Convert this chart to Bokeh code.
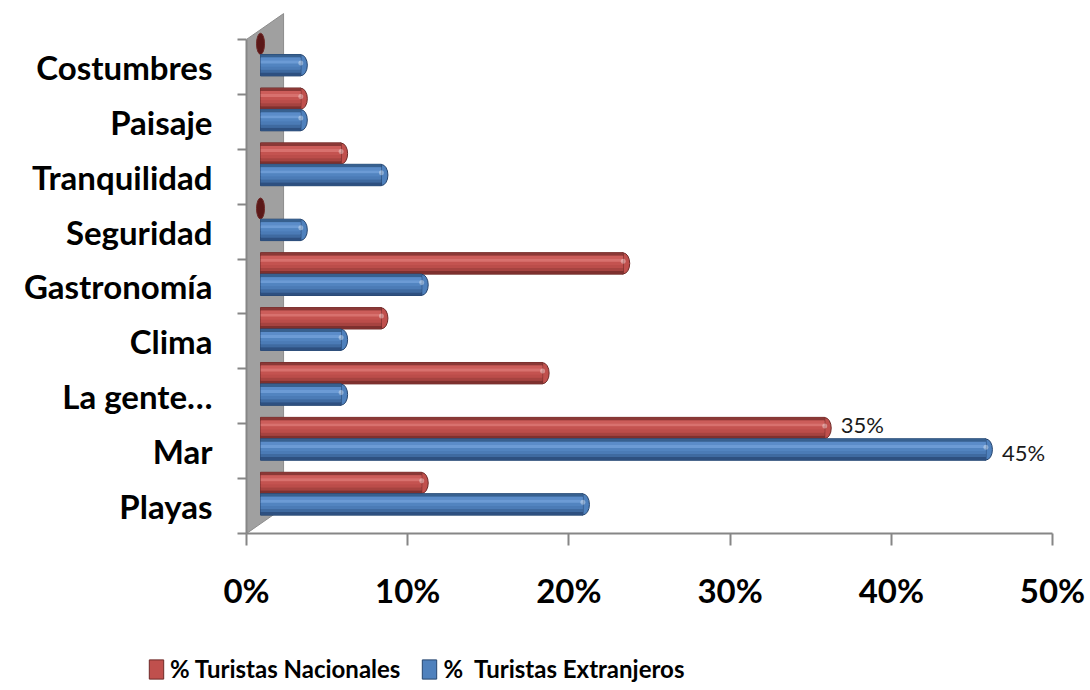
from bokeh.plotting import figure
from bokeh.models import Range1d, FixedTicker, Legend, LegendItem, ColumnDataSource
from bokeh.embed import file_html
from bokeh.resources import INLINE
from bokeh.core.properties import value

# ---------------- data ----------------
categories = ["Playas", "Mar", "La gente…", "Clima", "Gastronomía",
              "Seguridad", "Tranquilidad", "Paisaje", "Costumbres"]
nacionales = [10, 35, 17.5, 7.5, 22.5, 0, 5, 2.5, 0]
extranjeros = [20, 45, 5, 5, 10, 2.5, 7.5, 2.5, 2.5]
nac_labels = ["", "35%", "", "", "", "", "", "", ""]
ext_labels = ["", "45%", "", "", "", "", "", "", ""]
series_names = ["% Turistas Nacionales", "%  Turistas Extranjeros"]
x_ticks = [0, 10, 20, 30, 40, 50]
x_tick_labels = ["0%", "10%", "20%", "30%", "40%", "50%"]

# ---------------- style / geometry ----------------
FONT = "Lato"
AXIS_GRAY = "#868686"
DX = 0.87          # 3-D depth offset of bars (x units)
WALL_DX = 2.3
WALL_DY = 0.47
BAR_H = 0.39
OFF_NAC = 0.92     # position inside band
OFF_EXT = 0.53
N = len(categories)
RED, RED_DARK, RED_ZERO = "#c0504d", "#6e2a28", "#5a1818"
BLUE, BLUE_DARK, BLUE_ZERO = "#4f81bd", "#26456e", "#1c3556"

red_cols = ["#8a3836", "#cc5d5a", "#d8716e", "#c45350", "#bb4d4a", "#a64340", "#7e302e"]
blue_cols = ["#37608f", "#5b8cc9", "#6c9bd5", "#5284c0", "#4b7bb6", "#3f6aa0", "#2e5080"]

p = figure(width=1090, height=650, output_backend="svg", toolbar_location=None,
           x_range=Range1d(0, 50), y_range=Range1d(0, 533 / 54.9),
           min_border_left=246, min_border_right=38, min_border_top=0,
           min_border_bottom=117)
p.outline_line_color = None
p.xgrid.visible = False
p.ygrid.visible = False
p.background_fill_color = "white"
p.border_fill_color = "white"

# back wall
p.patch(x=[0, WALL_DX, WALL_DX, 0], y=[0, WALL_DY, N + WALL_DY, N],
        fill_color="#a0a0a0", line_color="#8c8c8c", line_width=1)


def draw_series(vals, off, cols, main, dark, zero_col, labels, yoff_lab):
    ys = [i + off for i in range(N)]
    nz = [i for i, v in enumerate(vals) if v > 0]
    src = ColumnDataSource(dict(
        y=[ys[i] for i in nz],
        left=[DX] * len(nz),
        right=[vals[i] + DX for i in nz],
    ))
    cap = ColumnDataSource(dict(
        x=[v + DX for v in vals],
        y=ys,
        w=[13 if v > 0 else 8 for v in vals],
        c=[main if v > 0 else zero_col for v in vals],
    ))
    # end caps (under the body)
    p.ellipse(x="x", y="y", width="w", height=21, width_units="screen",
              height_units="screen", fill_color="c", line_color=dark,
              line_width=1, source=cap)
    p.hbar(y="y", left="left", right="right", height=BAR_H, source=src,
           fill_color=main, line_color=dark, line_width=1)
    nstr = len(cols)
    sh = BAR_H / nstr
    for k, col in enumerate(cols):
        yy = [y + BAR_H / 2 - sh * (k + 0.5) for y in src.data["y"]]
        p.hbar(y=yy, left=src.data["left"], right=src.data["right"],
               height=sh * 1.02, fill_color=col, line_color=None)
    # cap highlight
    p.ellipse(x=[vals[i] + DX for i in nz], y=[ys[i] + 0.04 for i in nz],
              width=5, height=5, width_units="screen", height_units="screen",
              fill_color="white", fill_alpha=0.35, line_color=None)
    p.text(x=[v + DX for v in vals], y=ys, text=labels, x_offset=16,
           y_offset=yoff_lab, text_baseline="middle", text_align="left",
           text_font=value(FONT), text_font_size="22px", text_color="#1a1a1a")


draw_series(nacionales, OFF_NAC, red_cols, RED, RED_DARK, RED_ZERO, nac_labels, -4)
draw_series(extranjeros, OFF_EXT, blue_cols, BLUE, BLUE_DARK, BLUE_ZERO, ext_labels, 3)

# x axis
xa = p.xaxis[0]
xa.ticker = FixedTicker(ticks=x_ticks, minor_ticks=[])
xa.major_label_overrides = {t: l for t, l in zip(x_ticks, x_tick_labels)}
xa.major_label_text_font = FONT
xa.major_label_text_font_style = "bold"
xa.major_label_text_font_size = "33px"
xa.major_label_text_color = "black"
xa.major_label_standoff = 24
xa.major_tick_out = 12
xa.major_tick_in = 0
xa.major_tick_line_color = AXIS_GRAY
xa.major_tick_line_width = 2
xa.axis_line_color = AXIS_GRAY
xa.axis_line_width = 2
xa.bounds = (0, 50)

# y axis
ya = p.yaxis[0]
centers = [i + 0.5 for i in range(N)]
ya.ticker = FixedTicker(ticks=centers, minor_ticks=list(range(N + 1)))
ya.major_label_overrides = {c: l for c, l in zip(centers, categories)}
ya.major_label_text_font = FONT
ya.major_label_text_font_style = "bold"
ya.major_label_text_font_size = "33px"
ya.major_label_text_color = "black"
ya.major_label_standoff = 25
ya.major_tick_out = 0
ya.major_tick_in = 0
ya.major_tick_line_color = None
ya.minor_tick_out = 9
ya.minor_tick_in = 0
ya.minor_tick_line_color = AXIS_GRAY
ya.minor_tick_line_width = 2
ya.axis_line_color = AXIS_GRAY
ya.axis_line_width = 2
ya.bounds = (0, N)

# ---------------- legend strip (separate root, not frame-aligned) ----------------
p2 = figure(width=1090, height=40, output_backend="svg", toolbar_location=None,
            x_range=Range1d(0, 1), y_range=Range1d(0, 1),
            x_axis_location=None, y_axis_location=None,
            min_border_left=0, min_border_right=0, min_border_top=0,
            min_border_bottom=0)
p2.xgrid.visible = False
p2.ygrid.visible = False
p2.outline_line_color = None
# swatch renderers kept outside the visible range; only their legend glyphs show
r_nac = p2.hbar(y=[5], left=[5], right=[6], height=0.5, fill_color=RED,
                line_color=RED_DARK, line_width=1)
r_ext = p2.hbar(y=[5], left=[5], right=[6], height=0.5, fill_color=BLUE,
                line_color=BLUE_DARK, line_width=1)
legend = Legend(items=[LegendItem(label=series_names[0], renderers=[r_nac]),
                       LegendItem(label=series_names[1], renderers=[r_ext])],
                orientation="horizontal", location=(147, 7),
                glyph_width=18, glyph_height=24, label_standoff=5, spacing=20,
                padding=0, margin=0, border_line_alpha=0,
                background_fill_alpha=0,
                label_text_font=FONT, label_text_font_style="bold",
                label_text_font_size="24px", label_text_color="black",
                label_height=24)
p2.add_layout(legend, "center")

open("out.html", "w").write(file_html([p, p2], INLINE))
